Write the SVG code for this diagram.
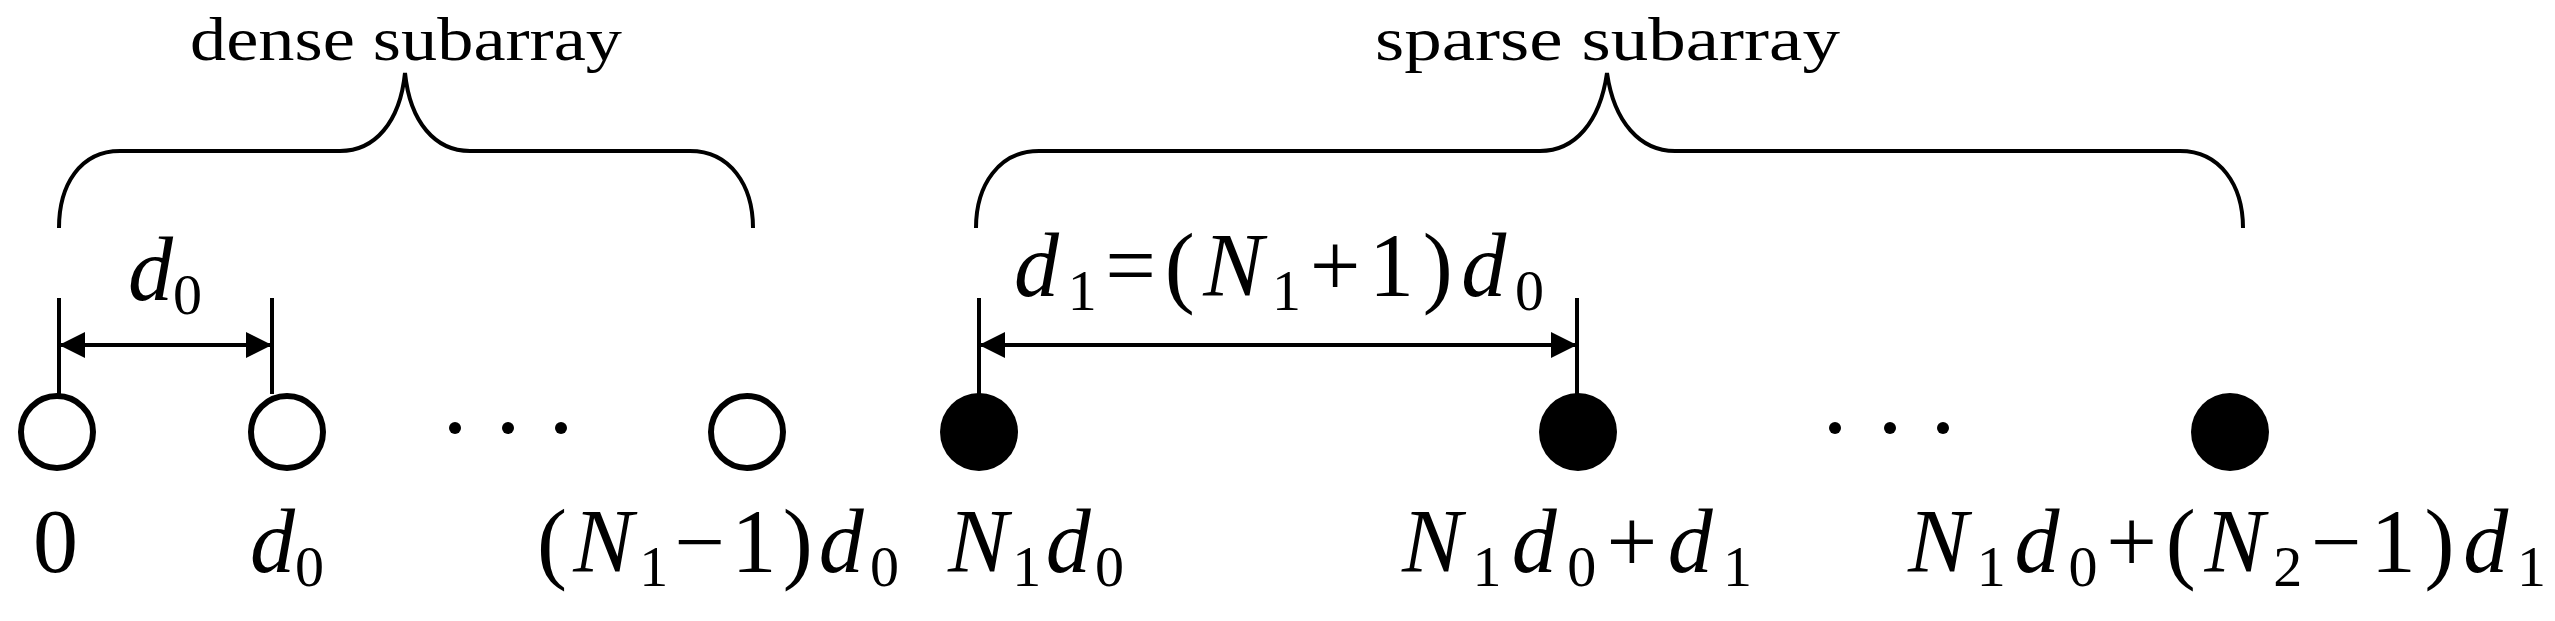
<svg xmlns="http://www.w3.org/2000/svg" width="2555" height="621" viewBox="0 0 2555 621">
<defs>
<style>
.ln{stroke:#000;stroke-width:4;fill:none}
.br{stroke:#000;stroke-width:4;fill:none}
.oc{fill:#fff;stroke:#000;stroke-width:6}
.fc{fill:#000}
.lab{font-family:"Liberation Serif",serif;font-size:62px;fill:#000}
.m{font-family:"Liberation Serif",serif;font-size:90px;fill:#000}
.i{font-style:italic}
.s{font-size:58px}
</style>
<marker id="ah" viewBox="0 0 26 26" refX="26" refY="13" markerWidth="26" markerHeight="26" markerUnits="userSpaceOnUse" orient="auto-start-reverse"><path d="M0 0 L26 13 L0 26 Z" fill="#000"/></marker>
</defs>
<g id="connectors">
<path class="br" d="M59 228 C59 185 80 151 120 151 L340 151 C375 151 400 122 405 73 C410 122 435 151 470 151 L690 151 C730 151 753 185 753 228"/>
<path class="br" d="M976 228 C976 185 999 151 1039 151 L1540 151 C1575 151 1600 122 1607 73 C1614 122 1640 151 1675 151 L2180 151 C2220 151 2243 185 2243 228"/>
<line class="ln" x1="59" y1="298" x2="59" y2="394"/>
<line class="ln" x1="272" y1="298" x2="272" y2="394"/>
<line class="ln" x1="59" y1="345" x2="272" y2="345" marker-start="url(#ah)" marker-end="url(#ah)"/>
<line class="ln" x1="979" y1="298" x2="979" y2="394"/>
<line class="ln" x1="1577" y1="298" x2="1577" y2="394"/>
<line class="ln" x1="979" y1="345" x2="1577" y2="345" marker-start="url(#ah)" marker-end="url(#ah)"/>
</g>
<g id="labels">
<text class="lab" x="190" y="60" textLength="432" lengthAdjust="spacingAndGlyphs">dense  subarray</text>
<text class="lab" x="1375" y="60" textLength="465" lengthAdjust="spacingAndGlyphs">sparse  subarray</text>
<text class="m" x="128" y="300"><tspan class="i">d</tspan><tspan class="s" dy="14">0</tspan></text>
<text class="m" x="1014" y="296" textLength="530" lengthAdjust="spacing"><tspan class="i">d</tspan><tspan class="s" dy="14">1</tspan><tspan dy="-14">=(</tspan><tspan class="i">N</tspan><tspan class="s" dy="14">1</tspan><tspan dy="-14">+1)</tspan><tspan class="i">d</tspan><tspan class="s" dy="14">0</tspan></text>
</g>
<g id="n0"><circle class="oc" cx="57" cy="432" r="36"/><text class="m" x="33" y="572">0</text></g>
<g id="n1"><circle class="oc" cx="287" cy="432" r="36"/><text class="m" x="250" y="572"><tspan class="i">d</tspan><tspan class="s" dy="14">0</tspan></text></g>
<g id="dots1"><circle class="fc" cx="455" cy="428" r="6"/><circle class="fc" cx="508" cy="428" r="6"/><circle class="fc" cx="561" cy="428" r="6"/></g>
<g id="n2"><circle class="oc" cx="747" cy="432" r="36"/><text class="m" x="537" y="572" textLength="362" lengthAdjust="spacing">(<tspan class="i">N</tspan><tspan class="s" dy="14">1</tspan><tspan dy="-14">−1)</tspan><tspan class="i">d</tspan><tspan class="s" dy="14">0</tspan></text></g>
<g id="n3"><circle class="fc" cx="979" cy="432" r="39"/><text class="m" x="948" y="572" textLength="176" lengthAdjust="spacing"><tspan class="i">N</tspan><tspan class="s" dy="14">1</tspan><tspan class="i" dy="-14">d</tspan><tspan class="s" dy="14">0</tspan></text></g>
<g id="n4"><circle class="fc" cx="1578" cy="432" r="39"/><text class="m" x="1402" y="572" textLength="350" lengthAdjust="spacing"><tspan class="i">N</tspan><tspan class="s" dy="14">1</tspan><tspan class="i" dy="-14">d</tspan><tspan class="s" dy="14">0</tspan><tspan dy="-14">+</tspan><tspan class="i">d</tspan><tspan class="s" dy="14">1</tspan></text></g>
<g id="dots2"><circle class="fc" cx="1835" cy="428" r="6"/><circle class="fc" cx="1890" cy="428" r="6"/><circle class="fc" cx="1943" cy="428" r="6"/></g>
<g id="n5"><circle class="fc" cx="2230" cy="432" r="39"/><text class="m" x="1908" y="572" textLength="638" lengthAdjust="spacing"><tspan class="i">N</tspan><tspan class="s" dy="14">1</tspan><tspan class="i" dy="-14">d</tspan><tspan class="s" dy="14">0</tspan><tspan dy="-14">+(</tspan><tspan class="i">N</tspan><tspan class="s" dy="14">2</tspan><tspan dy="-14">−1)</tspan><tspan class="i">d</tspan><tspan class="s" dy="14">1</tspan></text></g>
</svg>
